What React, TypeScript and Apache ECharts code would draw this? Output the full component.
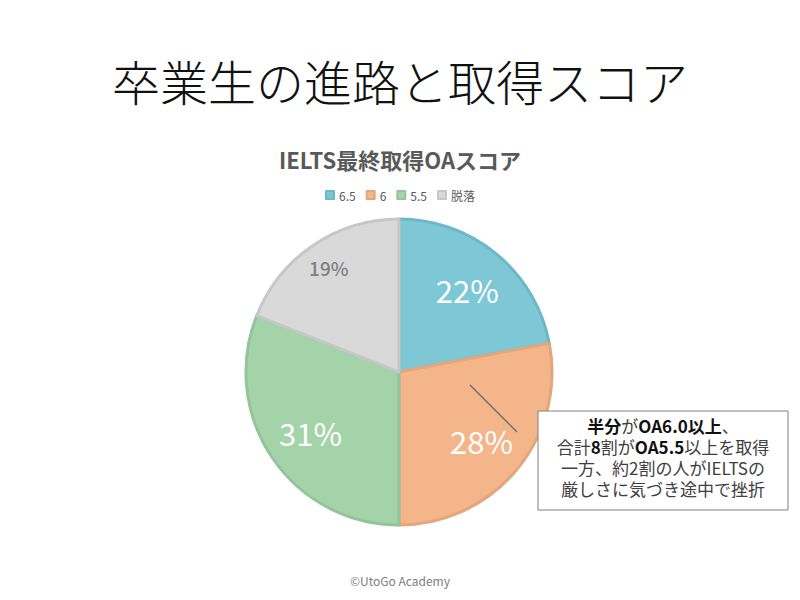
import React, { useEffect, useRef } from "react";
import * as echarts from "echarts";

const categories = ["6.5", "6", "5.5", "脱落"];
const shares = [22, 28, 31, 19];
const fillColors = ["#7EC8D6", "#F4B58A", "#A4D3AA", "#D9D9D9"];
const borderColors = ["#6DB8C8", "#E4A67B", "#93C49A", "#C7C7C7"];
const labelColors = ["#FFFFFF", "#FFFFFF", "#FFFFFF", "#7F7F7F"];
const labelSizes = [31, 31, 31, 19];

const FONT = "'Noto Sans CJK JP', 'Noto Sans', sans-serif";

export default function App() {
  const ref = useRef<HTMLDivElement>(null);
  useEffect(() => {
    if (!ref.current) return;
    const chart = echarts.init(ref.current, undefined, { renderer: "svg" });
    const cx = 399;
    const cy = 372;
    const r = 153;
    const pieData = categories.map((name, i) => ({
      name,
      value: shares[i],
      itemStyle: { color: fillColors[i], borderColor: borderColors[i], borderWidth: 3 },
    }));
    const labelData = categories.map((name, i) => ({
      name,
      value: shares[i],
      label: {
        color: labelColors[i],
        fontSize: labelSizes[i],
        fontWeight: i === 3 ? 500 : "normal",
        offset: i === 3 ? [-10, -16] : [0, 0],
      },
    }));
    chart.setOption({
      animation: false,
      backgroundColor: "#FFFFFF",
      textStyle: { fontFamily: FONT },
      title: [
        {
          text: "卒業生の進路と取得スコア",
          left: "center",
          top: 51,
          textStyle: { fontSize: 48, fontWeight: 300, color: "#111111", fontFamily: FONT },
        },
        {
          text: "IELTS最終取得OAスコア",
          left: "center",
          top: 143,
          textStyle: { fontSize: 22, fontWeight: "bold", color: "#595959", fontFamily: FONT },
        },
        {
          text: "©UtoGo Academy",
          left: "center",
          top: 569,
          textStyle: { fontSize: 12, fontWeight: "normal", color: "#808080", fontFamily: FONT },
        },
      ],
      legend: {
        data: categories,
        top: 184,
        left: "center",
        icon: "rect",
        itemWidth: 8,
        itemHeight: 8,
        itemGap: 10,
        textStyle: { fontSize: 12, color: "#595959", fontFamily: FONT },
      },
      series: [
        {
          type: "pie",
          center: [cx, cy],
          radius: [0, r],
          startAngle: 90,
          clockwise: true,
          label: { show: false },
          labelLine: { show: false },
          emphasis: { disabled: true },
          data: pieData,
        },
        {
          type: "pie",
          center: [cx, cy],
          radius: [r * 0.36, r],
          startAngle: 90,
          clockwise: true,
          silent: true,
          legendHoverLink: false,
          itemStyle: { color: "transparent", borderWidth: 0 },
          label: {
            show: true,
            position: "inside",
            formatter: "{c}%",
            fontFamily: FONT,
          },
          labelLine: { show: false },
          emphasis: { disabled: true },
          data: labelData,
        },
      ],
      graphic: [
        {
          type: "line",
          shape: { x1: 470, y1: 385, x2: 517, y2: 432 },
          style: { stroke: "#6F6F6F", lineWidth: 1.5 },
          z: 10,
        },
        {
          type: "rect",
          shape: { x: 538, y: 411, width: 250, height: 99 },
          style: { fill: "#FFFFFF", stroke: "#808080", lineWidth: 1 },
          z: 10,
        },
        {
          type: "text",
          x: 663,
          y: 415,
          z: 11,
          style: {
            text:
              "{b|半分}{n|が}{b|OA6.0以上}{n|、}\n" +
              "{n|合計}{b|8}{n|割が}{b|OA5.5}{n|以上を取得}\n" +
              "{n|一方、約2割の人がIELTSの}\n" +
              "{n|厳しさに気づき途中で挫折}",
            align: "center",
            verticalAlign: "top",
            fontFamily: FONT,
            fontSize: 17,
            lineHeight: 21,
            fill: "#333333",
            rich: {
              b: { fontWeight: "bold", fontSize: 17, lineHeight: 21, fill: "#111111", fontFamily: FONT },
              n: { fontWeight: "normal", fontSize: 17, lineHeight: 21, fill: "#404040", fontFamily: FONT },
            },
          },
        },
      ],
    });
    return () => chart.dispose();
  }, []);
  return (
    <div
      ref={ref}
      style={{ position: "absolute", left: 0, top: 0, width: 800, height: 600 }}
    />
  );
}
